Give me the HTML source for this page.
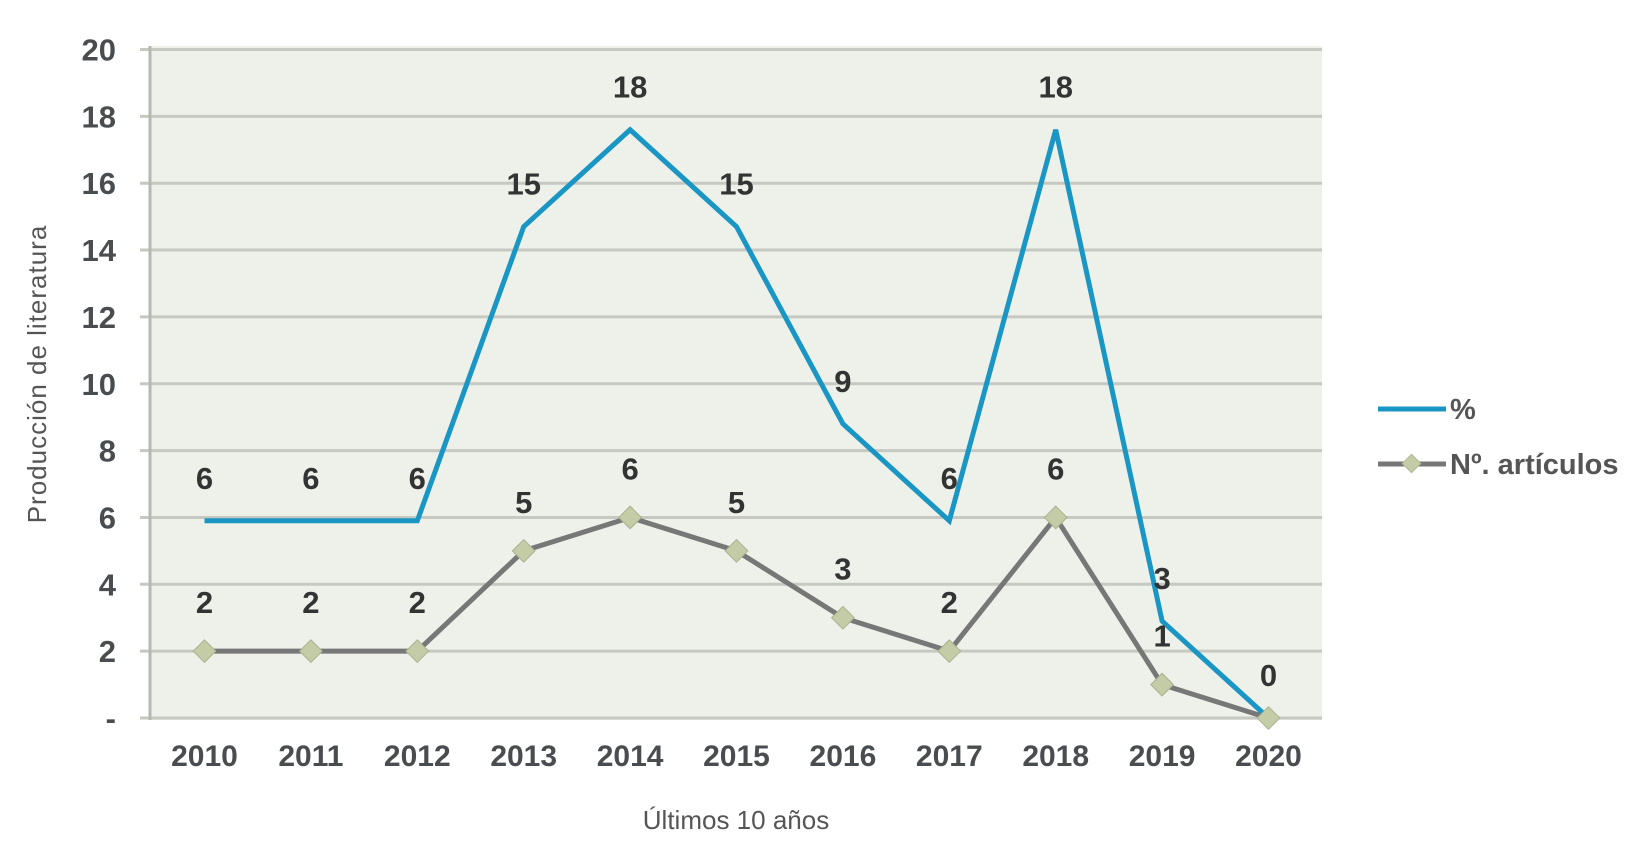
<!DOCTYPE html>
<html><head><meta charset="utf-8"><style>
html,body{margin:0;padding:0;background:#fff;}
svg{display:block;}
text{font-family:"Liberation Sans Narrow","Liberation Sans",sans-serif;}
</style></head><body>
<svg id="chart" width="1644" height="864" viewBox="0 0 1644 864">
<rect x="150" y="46" width="1172" height="674" fill="#eef1ea"/>
<g id="grid"></g>
<g id="axes"></g>
<g id="series"></g>
<g id="labels"></g>
<text x="46" y="374" transform="rotate(-90 46 374)" text-anchor="middle" font-size="26" fill="#555" letter-spacing="1">Producción de literatura</text>
<text x="736" y="829" text-anchor="middle" font-size="26" fill="#555">Últimos 10 años</text>
<g>
<g>
<line x1="1378" y1="409" x2="1446" y2="409" stroke="#1a96c4" stroke-width="5"/>
<text x="1450" y="419" font-size="29" font-weight="bold" fill="#555">%</text>
</g>
<g>
<line x1="1378" y1="464" x2="1446" y2="464" stroke="#777" stroke-width="5"/>
<rect x="1405" y="457" width="13" height="13" transform="rotate(45 1411.5 463.5)" fill="#c3cca6" stroke="#b0b894"/>
<text x="1450" y="474" font-size="29" font-weight="bold" fill="#555">Nº. artículos</text>
</g>
</g>
</svg>
<script>
const categories=["2010","2011","2012","2013","2014","2015","2016","2017","2018","2019","2020"];
const pctValues=[5.9,5.9,5.9,14.7,17.6,14.7,8.8,5.9,17.6,2.9,0];
const pctLabels=["6","6","6","15","18","15","9","6","18","3","0"];
const artValues=[2,2,2,5,6,5,3,2,6,1,0];
const artLabels=["2","2","2","5","6","5","3","2","6","1",""];
const yTicks=[0,2,4,6,8,10,12,14,16,18,20];
const yTickLabels=["-","2","4","6","8","10","12","14","16","18","20"];

const NS="http://www.w3.org/2000/svg";
const X0=204.5,XS=106.4,Y0=718,YT=49.5;
const xPos=i=>X0+i*XS;
const yPos=v=>Y0-(v/20)*(Y0-YT);
function mk(tag,attrs,parent){const e=document.createElementNS(NS,tag);for(const k in attrs)e.setAttribute(k,attrs[k]);parent.appendChild(e);return e;}
const grid=document.getElementById('grid'),axes=document.getElementById('axes'),series=document.getElementById('series'),labels=document.getElementById('labels');

yTicks.forEach((t,i)=>{
  const y=yPos(t);
  const l=mk('line',{x1:140,y1:y,x2:1322,y2:y,stroke:'#c6c8c1','stroke-width':3},grid);
  
  
  const tx=mk('text',{x:116,y:y+11,'text-anchor':'end','font-size':31,'font-weight':'bold',fill:'#4a4d50'},axes);
  tx.textContent=yTickLabels[i];
  
  
});
const ax=mk('line',{x1:150,y1:46,x2:150,y2:720,stroke:'#b5b7b1','stroke-width':3},axes);


categories.forEach((c,i)=>{
  const tx=mk('text',{x:xPos(i),y:766,'text-anchor':'middle','font-size':30,'font-weight':'bold',fill:'#4a4d50'},axes);
  tx.textContent=c;
  
  
});

const artPts=artValues.map((v,i)=>xPos(i)+','+yPos(v)).join(' ');
const ap=mk('polyline',{points:artPts,fill:'none',stroke:'#777','stroke-width':5,'stroke-linejoin':'round'},series);


const pctPts=pctValues.map((v,i)=>xPos(i)+','+yPos(v)).join(' ');
const pp=mk('polyline',{points:pctPts,fill:'none',stroke:'#1a96c4','stroke-width':5,'stroke-linejoin':'miter'},series);


artValues.forEach((v,i)=>{
  const x=xPos(i),y=yPos(v);
  const d=mk('rect',{x:x-8,y:y-8,width:16,height:16,transform:`rotate(45 ${x} ${y})`,fill:'#c3cca6',stroke:'#aab290','stroke-width':1},series);
  
  
});
pctValues.forEach((v,i)=>{
  const t=mk('text',{x:xPos(i),y:yPos(v)-32,'text-anchor':'middle','font-size':31,'font-weight':'bold',fill:'#333','font-family':'Liberation Serif, serif'},labels);
  t.textContent=pctLabels[i];
  
  
});
artValues.forEach((v,i)=>{
  const t=mk('text',{x:xPos(i),y:yPos(v)-38,'text-anchor':'middle','font-size':31,'font-weight':'bold',fill:'#333','font-family':'Liberation Serif, serif'},labels);
  t.textContent=artLabels[i];
  
  
});
</script>
</body></html>
